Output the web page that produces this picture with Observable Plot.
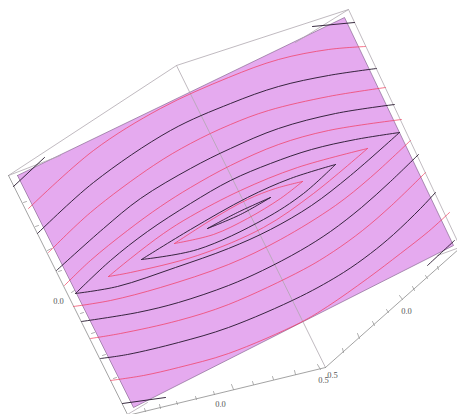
<!DOCTYPE html>
<html><head><meta charset="utf-8">
<style>html,body{margin:0;padding:0;background:#fff}svg{display:block}</style>
<script src="https://cdn.jsdelivr.net/npm/d3@7"></script>
<script src="https://cdn.jsdelivr.net/npm/@observablehq/plot@0.6"></script>
</head><body><div id="c"></div>
<script>
const sheet = [[17,175],[344,17],[453,245],[133,407],[17,175]];
// upper arcs
const redA6 = [[28,208],[93,150],[160,108],[228,77],[278,59],[328,49],[365,46]];
const blkA5 = [[37,233],[93,182],[170,130],[230,103],[278,86],[328,75],[376,68]];
const redA4 = [[48,252],[90,212],[153,165],[190,143],[230,124],[268,110],[328,96],[385,87]];
const blkA3 = [[56,270],[103,228],[140,198],[190,168],[230,148],[278,128],[335,113],[394,104]];
const redA2 = [[64,285],[90,260],[127,230],[160,206],[190,187],[230,165],[278,144],[328,130],[401,119]];
const blkA1 = [[75,293],[110,260],[147,231],[190,203],[230,180],[270,163],[311,149],[355,139],[399,132]];
const redL1u = [[108,276],[130,258],[163,233],[190,216],[240,190],[297,167],[367,148]];
const blkL2u = [[141,259],[190,229],[247,197],[290,178],[335,164]];
const redL3u = [[174,243],[213,218],[247,199],[275,188],[302,181]];
const blkL4u = [[207,228],[237,212],[270,197]];
// lower arcs
const blkL4d = [[207,228],[240,214],[270,197]];
const redL3d = [[174,243],[213,234],[247,218],[280,198],[302,181]];
const blkL2d = [[141,259],[197,249],[263,219],[303,193],[335,164]];
const redL1d = [[108,276],[130,272],[197,255],[263,227],[313,193],[367,148]];
const blkB1 = [[75,293],[117,286],[175,267],[228,248],[270,229],[311,205],[350,175],[399,132]];
const redB2 = [[73,306],[110,300],[160,287],[228,264],[280,239],[335,205],[370,177],[410,140]];
const blkB3 = [[81,321],[137,312],[178,302],[228,285],[262,270],[300,250],[330,231],[361,207],[390,181],[418,154]];
const redB4 = [[90,338],[120,333],[178,320],[228,304],[303,269],[333,251],[362,230],[391,205],[425,172]];
const blkB5 = [[100,358],[127,354],[178,342],[228,327],[300,296],[343,272],[370,253],[393,234],[420,208],[435,192]];
const redB6 = [[110,380],[143,375],[178,367],[228,353],[300,322],[327,306],[367,278],[400,253],[428,231],[449,212]];
const blkStubs = [
  [[13,186],[44,157]], [[312,26],[354,22]], [[122,403],[165,397]], [[427,265],[441,252],[454,240]]
];
const redCurves = [redA6,redA4,redA2,redL1u,redL3u,redL3d,redL1d,redB2,redB4,redB6];
const blackCurves = [blkA5,blkA3,blkA1,blkL2u,blkL4u,blkL4d,blkL2d,blkB1,blkB3,blkB5,...blkStubs];
// bounding box edges
const boxEdges = [
  [[8,175],[176,65],[348,9],[459,245]],
  [[176,65],[325,367]],
  [[8,175],[60,155]],
  [[348,9],[295,42]],
  [[127,414],[147,402]],
  [[437,255],[459,247]]
];
const axisEdges = [
  [[8,175],[127,414]],
  [[127,415],[325,367]],
  [[325,367],[459,248]]
];
const tickSegs = [
  [[343,352],[342,348]],[[359,338],[357,333]],[[374,325],[372,321]],[[388,312],[386,309]],
  [[402,299],[399,295]],[[414,290],[412,286]],[[427,278],[425,275]],[[438,269],[437,266]],
  [[320,369],[317,364]],[[295,374],[294,370]],[[273,379],[272,376]],[[253,384],[252,381]],
  [[233,389],[231,384]],[[214,394],[213,391]],[[196,399],[195,396]],[[177,404],[176,401]],[[160,408],[159,404]],[[145,411],[144,408]],
  [[23,202],[26,201]],[[35,226],[38,225]],[[47,250],[51,248]],[[58,271],[61,270]],[[71,292],[74,290]],
  [[80,313],[83,312]],[[91,333],[94,332]],[[102,355],[105,354]],[[113,378],[116,377]]
];
const labels = [
  {t:"0.0",p:[58,301]},{t:"0.0",p:[220,404]},{t:"0.0",p:[406,311]},
  {t:"0.5",p:[332,375]},{t:"0.5",p:[323,380]}
];
const X = d=>d[0], Y = d=>d[1];
const lines = (list,opt)=>list.map(c=>Plot.line(c,{x:X,y:Y,...opt}));
const chart = Plot.plot({
  width:457,height:414,margin:0,
  x:{domain:[0,457],range:[0,457],axis:null},
  y:{domain:[0,414],range:[0,414],axis:null},
  marks:[
    Plot.line(sheet,{x:X,y:Y,fill:"#E5AAEF",stroke:"#8a6a94",strokeWidth:0.7}),
    ...lines(boxEdges,{stroke:"#b0a8b0",strokeWidth:0.8}),
    ...lines(axisEdges,{stroke:"#8c8c8c",strokeWidth:0.8}),
    ...lines(tickSegs,{stroke:"#8c8c8c",strokeWidth:0.7}),
    ...lines(redCurves,{stroke:"#f2385a",strokeWidth:0.7,curve:"catmull-rom"}),
    ...lines(blackCurves,{stroke:"#22142a",strokeWidth:0.9,curve:"catmull-rom"}),
    Plot.text(labels,{x:d=>d.p[0],y:d=>d.p[1],text:"t",fontFamily:"Liberation Serif",fontSize:8.5,fill:"#555"})
  ]
});
document.getElementById("c").append(chart);
</script></body></html>
